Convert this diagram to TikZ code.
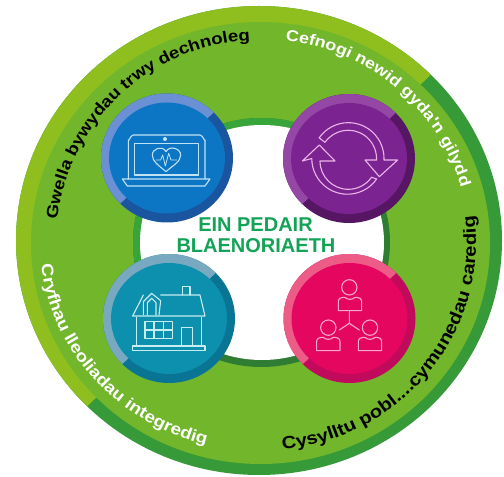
\documentclass[tikz,border=0pt]{standalone}
\usepackage{fontspec}
\setmainfont{Liberation Sans}
\newfontfamily\widefont[FakeStretch=1.15]{Liberation Sans}
\usetikzlibrary{decorations.text,calc}
\definecolor{bandlight}{HTML}{8FBE1F}
\definecolor{banddark}{HTML}{369A38}
\definecolor{mainleaf}{HTML}{72B62C}
\definecolor{ringlight}{HTML}{38A53A}
\definecolor{ringdark}{HTML}{2E7D33}
\definecolor{titlegreen}{HTML}{13A356}
\definecolor{bluein}{HTML}{0C75C4}\definecolor{bluelt}{HTML}{6B90D4}\definecolor{bluedk}{HTML}{1A559F}
\definecolor{purin}{HTML}{7B2390}\definecolor{purlt}{HTML}{9447A4}\definecolor{purdk}{HTML}{561663}
\definecolor{tealin}{HTML}{0D8FAE}\definecolor{teallt}{HTML}{78A9C0}\definecolor{tealdk}{HTML}{0A7495}
\definecolor{magin}{HTML}{E4065F}\definecolor{maglt}{HTML}{EC5C86}\definecolor{magdk}{HTML}{C20A5C}
\definecolor{iconblue}{HTML}{BFE3F5}\definecolor{iconpur}{HTML}{EBB5EA}\definecolor{iconteal}{HTML}{C5EDF2}\definecolor{iconmag}{HTML}{F7A8D2}
\newcommand\splitdisc[6]{% cx cy rx ry light dark
  \fill[#6] (#1,#2) ellipse[x radius=#3,y radius=#4];
  \fill[#5] (#1,#2) -- ($(#1,#2)+(45:#3 and #4)$) arc[start angle=45,end angle=225,x radius=#3,y radius=#4] -- cycle;}
\newcommand\badge[5]{% cx cy light dark inner
  \splitdisc{#1}{#2}{66}{64.5}{#3}{#4}
  \fill[#5] (#1,#2) ellipse[x radius=58,y radius=55.5];}
\newcommand\curved[7]{% colour size rx ry start end text
  \path[decorate,decoration={text along path,text align={left},
    text={|\color{#1}\widefont\bfseries\fontsize{#2}{#2}\selectfont|#7}}]
    ($(260,234)+(#5:#3 and #4)$) arc[start angle=#5,end angle=#6,x radius=#3,y radius=#4];}
\newcommand\personbody[1]{%
  \begin{scope}[shift={(#1)}]
  \draw (0,40) -- (0,14) .. controls (0,4) and (6,0) .. (14,0) -- (20,0) .. controls (26,8) and (44,8) .. (50,0) -- (56,0) .. controls (64,0) and (70,4) .. (70,14) -- (70,40) -- cycle;
  \end{scope}}
\tikzset{
  iconpen/.style={line width=1.1pt,line join=round,line cap=round},
  zoomed/.style={x=0.33333pt,y=-0.33333pt},
  titletext/.style={text=titlegreen,font=\bfseries\fontsize{20}{20}\selectfont,inner sep=0pt,anchor=base}
}
\begin{document}
\begin{tikzpicture}[x=1pt,y=1pt]
\useasboundingbox (0,0) rectangle (504,477);
\splitdisc{259}{236.5}{243}{234.5}{bandlight}{banddark}
\fill[mainleaf] (260.5,234) ellipse[x radius=229.5,y radius=221];
\splitdisc{261.5}{234.5}{128.5}{124.5}{ringlight}{ringdark}
\fill[white] (262,234.5) ellipse[x radius=122,y radius=117.5];
\badge{167}{319}{bluelt}{bluedk}{bluein}
\badge{349}{318.5}{purlt}{purdk}{purin}
\badge{169}{158.5}{teallt}{tealdk}{tealin}
\badge{349.5}{158.5}{maglt}{magdk}{magin}
\node[titletext] (titleone) at (255.5,245) {EIN PEDAIR};
\node[titletext] (titletwo) at (256,224.3) {BLAENORIAETH};
\curved{black}{16.2}{204}{203}{173.5}{75}{Gwella bywydau trwy dechnoleg}
\curved{white}{15.6}{209}{204}{83}{0}{Cefnogi newid gyda'n gilydd}
\curved{black}{17.5}{216}{208}{-84}{25}{Cysylltu pobl....cymunedau caredig}
\curved{white}{16.4}{220}{208}{186}{270}{Cryfhau lleoliadau integredig}
% laptop
\begin{scope}[zoomed,shift={(90pt,397pt)},iconblue,iconpen]
\draw (115,297) -- (115,180) to[out=-90,in=180] (130,165) -- (330,165) to[out=0,in=-90] (345,180) -- (345,297);
\draw (133,190) rectangle (325,285);
\fill (225,177) circle[radius=6];
\draw (97,297) -- (360,297) -- (345,318) -- (112,318) -- cycle;
\draw (228,275) .. controls (205,255) and (187,245) .. (187,225) .. controls (187,205) and (218,195) .. (228,215) .. controls (238,195) and (272,205) .. (272,225) .. controls (272,245) and (250,255) .. (228,275) -- cycle;
\draw[line width=.8pt] (198,240) -- (212,240) -- (218,225) -- (226,258) -- (236,220) -- (243,240) -- (260,240);
\end{scope}
% arrows
\begin{scope}[zoomed,shift={(260pt,397pt)},iconpen,iconpur]
\draw (372,235) arc[start angle=0,end angle=-145,radius=107] -- (195,187) arc[start angle=-145,end angle=0,radius=85] -- (350,240) -- (315,240) -- (358,290) -- (413,240) -- (372,240) -- cycle;
\draw (350,297) arc[start angle=35,end angle=180,radius=107] -- (127,243) -- (178,195) -- (225,243) -- (180,243) arc[start angle=180,end angle=35,radius=85] -- cycle;
\end{scope}
% house
\begin{scope}[zoomed,shift={(90pt,237pt)},iconpen,iconteal]
\draw (128,228) -- (345,228) -- (330,165) -- (212,165);
\draw (160,165) -- (128,228);
\draw (160,225) -- (160,185) -- (185,160) -- (212,182) -- (207,225);
\draw (172,225) -- (172,188) -- (185,175) -- (198,188) -- (198,225);
\draw (278,165) -- (278,140) -- (300,140) -- (300,165);
\draw (140,232) -- (140,318);
\draw (335,232) -- (335,318);
\draw (128,318) rectangle (345,332);
\draw (165,245) rectangle (248,295);
\draw (192,245) -- (192,295);
\draw (221,245) -- (221,295);
\draw (165,270) -- (248,270);
\draw (275,318) -- (275,262) -- (307,262) -- (307,318);
\end{scope}
% people
\begin{scope}[zoomed,shift={(260pt,237pt)},iconpen,iconmag]
\draw (268,142) circle[radius=23];
\draw (205,263) circle[radius=23];
\draw (330,263) circle[radius=23];
\personbody{235,172}
\personbody{170,292}
\personbody{295,292}
\draw (268,212) -- (268,250) -- (238,270);
\draw (268,250) -- (298,270);
\end{scope}
\end{tikzpicture}
\end{document}
